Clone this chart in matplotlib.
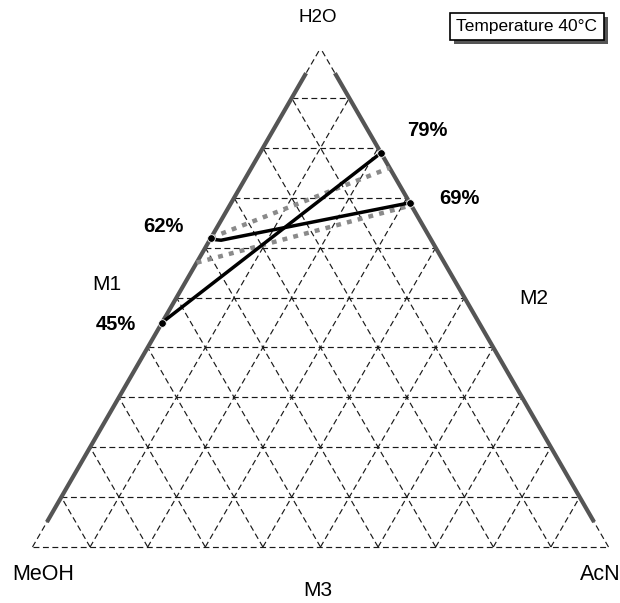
import numpy as np
import matplotlib
matplotlib.use("Agg")
import matplotlib.pyplot as plt
from matplotlib.patches import Rectangle

plt.rcParams["font.family"] = ["Liberation Sans", "DejaVu Sans"]

# ternary data: water fraction (H2O apex) and acetonitrile fraction (AcN corner)
tie1_water = [0.45, 0.79]
tie1_acn = [0.00, 0.21]
tie2_water = [0.62, 0.616, 0.615, 0.619, 0.69]
tie2_acn = [0.00, 0.010, 0.020, 0.035, 0.31]
gray1_water = [0.62, 0.76]
gray1_acn = [0.00, 0.24]
gray2_water = [0.57, 0.685]
gray2_acn = [0.00, 0.315]
pct_labels = ["45%", "62%", "79%", "69%"]
grid_steps = np.arange(1, 10) / 10

H = np.sqrt(3) / 2
S = 576.0          # triangle side in pixels
X0, YB = 32.5, 547  # bottom-left vertex in pixels (from top)


def tern(water, acn):
    water = np.asarray(water, float)
    acn = np.asarray(acn, float)
    return acn + water / 2, water * H


def px(x, y):
    # pixel (from top-left) -> data coords
    return (x - X0) / S, (YB - y) / S


fig = plt.figure(figsize=(6.2, 6.03), dpi=100)
ax = fig.add_axes([0, 0, 1, 1])
ax.set_xlim(-X0 / S, (620 - X0) / S)
ax.set_ylim(-(603 - YB) / S, YB / S)
ax.axis("off")

grid_kw = dict(color="#1a1a1a", lw=0.85, ls=(0, (5, 3)))
# triangle outline (dashed)
for w0, a0, w1, a1 in [(0, 0, 0, 1), (0, 0, 1, 0), (0, 1, 1, 0)]:
    x, y = tern([w0, w1], [a0, a1])
    ax.plot(x, y, **grid_kw)
for k in grid_steps:
    x, y = tern([k, k], [0, 1 - k])
    ax.plot(x, y, **grid_kw)
    x, y = tern([0, 1 - k], [k, k])
    ax.plot(x, y, **grid_kw)
    x, y = tern([0, 1 - k], [1 - k, 0])
    ax.plot(x, y, **grid_kw)

# thick gray side edges
x, y = tern([0.05, 0.95], [0, 0])
ax.plot(x, y, color="#555555", lw=3, solid_capstyle="butt")
x, y = tern([0.05, 0.95], [0.95, 0.05])
ax.plot(x, y, color="#555555", lw=3, solid_capstyle="butt")

# gray dashed tie lines
for w, a in [(gray1_water, gray1_acn), (gray2_water, gray2_acn)]:
    x, y = tern(w, a)
    ax.plot(x, y, color="#8a8a8a", lw=3.2, ls=(0, (1.1, 1.4)),
            solid_capstyle="butt", dash_capstyle="butt")

# black tie lines
for w, a in [(tie1_water, tie1_acn), (tie2_water, tie2_acn)]:
    x, y = tern(w, a)
    ax.plot(x, y, color="black", lw=2.5, solid_joinstyle="round")
    ax.plot([x[0], x[-1]], [y[0], y[-1]], "o", color="black", ms=5.5,
            mec="white", mew=0.6)

txt = dict(ha="center", va="center")
ax.text(*px(318, 18), "H2O", fontsize=13.5, **txt)
ax.text(*px(43, 575), "MeOH", fontsize=15.5, **txt)
ax.text(*px(600, 575), "AcN", fontsize=15.5, **txt)
ax.text(*px(318, 591), "M3", fontsize=15, **txt)
ax.text(*px(107, 285), "M1", fontsize=15, **txt)
ax.text(*px(534, 298), "M2", fontsize=15, **txt)

pct_pos = [(116, 324), (163, 227), (427, 130), (459, 199)]
for lab, (xp, yp) in zip(pct_labels, pct_pos):
    ax.text(*px(xp, yp), lab, fontsize=14.5, fontweight="bold", **txt)

# temperature box with drop shadow
bx, by, bw, bh = 450, 13, 154, 27
fig.patches.append(Rectangle(((bx + 4) / 620, 1 - (by + bh + 4) / 603),
                             bw / 620, bh / 603, transform=fig.transFigure,
                             facecolor="#555555", edgecolor="none", zorder=5))
fig.patches.append(Rectangle((bx / 620, 1 - (by + bh) / 603), bw / 620, bh / 603,
                             transform=fig.transFigure, facecolor="white",
                             edgecolor="black", lw=1.2, zorder=6))
fig.text((bx + bw / 2) / 620, 1 - (by + bh / 2) / 603, "Temperature 40°C",
         fontsize=12.5, ha="center", va="center", zorder=7)

fig.savefig("out.png", dpi=100)
